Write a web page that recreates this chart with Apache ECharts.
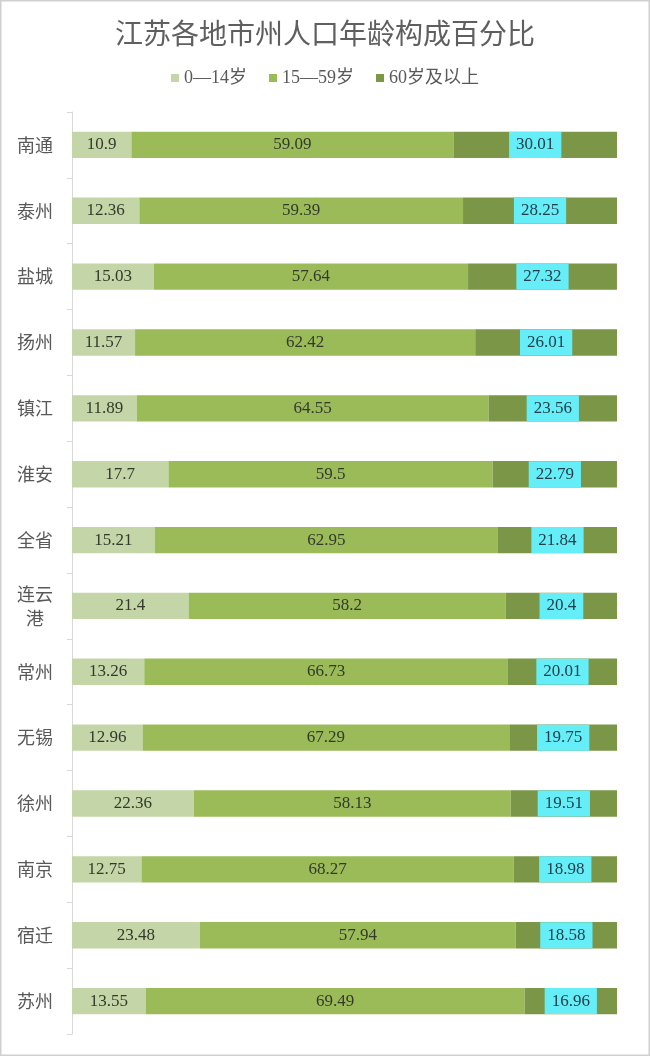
<!DOCTYPE html>
<html><head><meta charset="utf-8">
<script src="https://cdn.jsdelivr.net/npm/echarts@6/dist/echarts.min.js"></script>
<style>html,body{margin:0;padding:0;background:#fff}#c{width:650px;height:1056px}</style>
</head><body><div id="c"></div>
<script>
const categories = ['南通','泰州','盐城','扬州','镇江','淮安','全省','连云港','常州','无锡','徐州','南京','宿迁','苏州'];
const seriesNames = ['0—14岁','15—59岁','60岁及以上'];
const age0to14 = [10.9,12.36,15.03,11.57,11.89,17.7,15.21,21.4,13.26,12.96,22.36,12.75,23.48,13.55];
const age15to59 = [59.09,59.39,57.64,62.42,64.55,59.5,62.95,58.2,66.73,67.29,58.13,68.27,57.94,69.49];
const age60plus = [30.01,28.25,27.32,26.01,23.56,22.79,21.84,20.4,20.01,19.75,19.51,18.98,18.58,16.96];

const chart = echarts.init(document.getElementById('c'));
const numFont = "'Liberation Serif','Noto Sans CJK SC',serif";
const baseLabel = {show:true, position:'inside', fontFamily:numFont, fontSize:17, color:'#333a2c'};
chart.setOption({
  backgroundColor:'#fff',
  graphic:[{type:'rect', shape:{x:0.5,y:0.5,width:649,height:1055}, style:{fill:'none', stroke:'#d0d0d0', lineWidth:2}, silent:true}],
  title:{text:'江苏各地市州人口年龄构成百分比', left:'center', top:14,
    textStyle:{fontSize:28, fontWeight:'normal', color:'#5f5f5f', fontFamily:"'Noto Sans CJK SC',sans-serif"}},
  legend:{top:64, left:'center', icon:'rect', itemWidth:8, itemHeight:8, itemGap:22,
    textStyle:{fontSize:18, color:'#595959', fontFamily:numFont}, data:seriesNames},
  grid:{left:72, right:33, top:112, bottom:22},
  xAxis:{type:'value', min:0, max:100, show:false},
  yAxis:{type:'category', data:categories, inverse:true,
    axisLine:{lineStyle:{color:'#d9d9d9'}},
    axisTick:{show:true, length:5, lineStyle:{color:'#d9d9d9'}},
    axisLabel:{fontSize:18, color:'#595959', margin:37, align:'center', lineHeight:24, fontFamily:"'Noto Sans CJK SC',sans-serif",
      formatter:v=> v.length>2 ? v.slice(0,2)+'\n'+v.slice(2) : v}},
  series:[
    {name:seriesNames[0], type:'bar', stack:'a', data:age0to14, barWidth:'40%', itemStyle:{color:'#c4d5a7'}, label:baseLabel},
    {name:seriesNames[1], type:'bar', stack:'a', data:age15to59, itemStyle:{color:'#9bbb59'}, label:baseLabel},
    {name:seriesNames[2], type:'bar', stack:'a', data:age60plus, itemStyle:{color:'#7b9646'},
      label:Object.assign({}, baseLabel, {backgroundColor:'#66eef8', padding:[4,7,5,7], color:'#23404a'})}
  ]
});
</script></body></html>
